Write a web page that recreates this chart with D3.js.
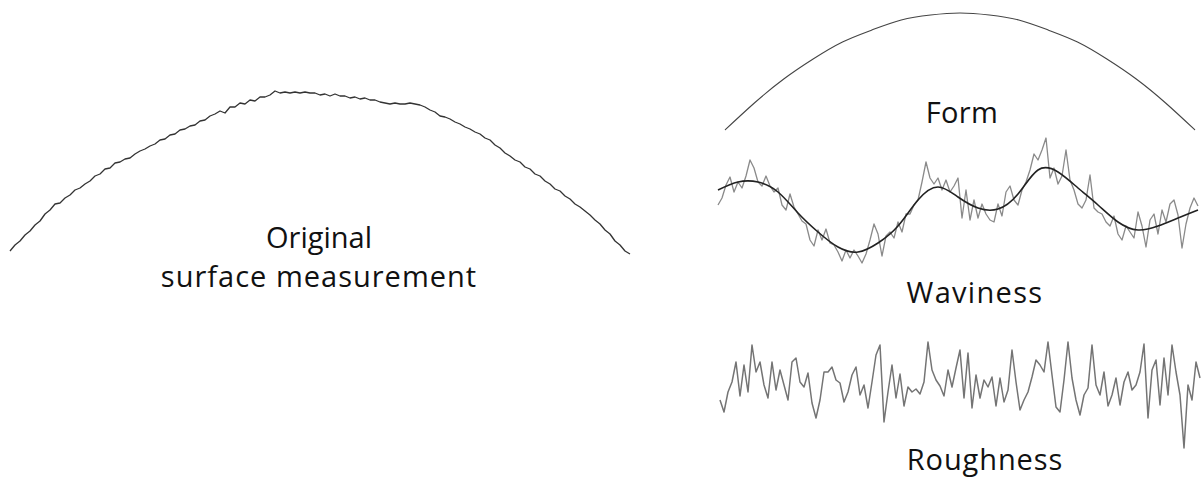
<!DOCTYPE html>
<html>
<head>
<meta charset="utf-8">
<script src="https://cdn.jsdelivr.net/npm/d3@7/dist/d3.min.js"></script>
<style>
  html, body { margin: 0; padding: 0; background: #fff; }
  svg { display: block; }
  text { font-family: "Open Sans", "Noto Sans", sans-serif; fill: #111; }
</style>
</head>
<body>
<svg id="chart" width="1201" height="477"></svg>
<script>
// Measured surface profile (height above reference, equally spaced samples)
const originalProfile = [
  9,15,19,25,29,35,39,46,50,56,57,62,65,70,72,76,79,84,86,91,
  92,97,98,101,102,106,109,111,114,116,120,121,125,126,130,131,134,135,139,140,
  144,146,149,147,153,153,157,156,160,159,163,163,165,169,167,168,167,168,167,168,
  167,167,165,166,164,166,164,164,162,163,161,162,160,160,158,157,156,157,156,156,
  157,156,155,153,150,148,144,143,141,138,136,133,131,128,126,122,120,115,112,107,
  104,100,98,93,91,86,84,79,76,71,69,64,61,56,53,49,45,40,36,30,
  26,19,15,9,6
];

// Form component (low-order fit)
const formProfile = [0,27,51,71,88,100,110,115,117,115,110,100,88,71,51,27,0];

// Waviness: filtered profile and its mean line
const wavinessProfile = [
  65,72,85,93,78,88,82,94,110,102,88,84,94,84,78,82,65,60,76,63,
  56,49,46,30,24,40,30,41,27,25,18,9,20,12,20,14,7,16,30,46,
  36,14,34,38,32,48,38,56,56,65,70,88,108,92,86,92,80,90,78,84,
  92,52,80,50,70,52,66,56,50,48,66,54,78,84,70,65,80,88,100,116,
  110,120,132,92,102,86,94,120,90,80,66,62,70,95,62,58,56,48,44,54,
  36,30,44,38,32,58,44,23,50,56,36,60,48,66,70,55,22,46,62,72,
  64
];
const wavinessMean = [80,88,88,78,57,38,23,18,27,44,70,83,73,62,61,76,100,98,82,65,48,40,44,52,60];

// Roughness: residual after removing waviness
const roughnessProfile = [
  -15,-27,-7,3,23,-11,20,-7,40,13,23,0,-13,23,-5,15,0,-15,23,27,
  3,-2,12,-18,-33,-15,13,13,18,5,2,-17,-7,10,18,-10,0,-23,3,30,
  40,-37,-7,20,-13,11,-21,-2,-7,-4,-9,3,43,15,5,-1,-11,15,-2,17,
  35,-13,32,-23,10,-13,5,-2,8,-21,7,-17,-5,35,3,-25,-15,-7,8,25,
  20,13,43,10,-22,-27,5,43,7,-15,-30,-10,-3,40,0,-10,13,-21,-10,7,
  -20,3,13,-5,0,13,41,-33,15,25,-20,27,-10,40,13,-10,-63,0,-15,23,
  7
];

// Panel labels
const labels = [
  { text: "Original", panel: "original", line: 0 },
  { text: "surface measurement", panel: "original", line: 1 },
  { text: "Form", panel: "form", line: 0 },
  { text: "Waviness", panel: "waviness", line: 0 },
  { text: "Roughness", panel: "roughness", line: 0 }
];

// Tracking per label so the words keep their set widths
const labelSpacing = {
  "Original": 0,
  "surface measurement": 1,
  "Form": 0.3,
  "Waviness": 1.3,
  "Roughness": 0.9
};

const svg = d3.select("#chart");

// Panel layouts (pixel frames)
const panels = {
  original:  { x0: 10,  x1: 630,  base: 260, label: { x: 319, y: 248, dy: 39 } },
  form:      { x0: 725, x1: 1195, base: 130, label: { x: 962, y: 123, dy: 0 } },
  waviness:  { x0: 718, x1: 1198, base: 270, label: { x: 975, y: 303, dy: 0 } },
  roughness: { x0: 720, x1: 1200, base: 385, label: { x: 985, y: 470, dy: 0 } }
};

function xScale(p, n) {
  return d3.scaleLinear().domain([0, n - 1]).range([p.x0, p.x1]);
}
function yScale(p) {
  // height units map 1:1 upward from the panel base line
  return d3.scaleLinear().domain([0, 100]).range([p.base, p.base - 100]);
}

function drawLine(data, p, curve, stroke, width) {
  const x = xScale(p, data.length);
  const y = yScale(p);
  const line = d3.line()
    .x((d, i) => x(i))
    .y(d => y(d))
    .curve(curve);
  svg.append("path")
    .datum(data)
    .attr("d", line)
    .attr("fill", "none")
    .attr("stroke", stroke)
    .attr("stroke-width", width)
    .attr("stroke-linejoin", "round");
}

drawLine(originalProfile, panels.original, d3.curveLinear, "#333", 1.3);
drawLine(formProfile, panels.form, d3.curveNatural, "#444", 1.1);
drawLine(wavinessProfile, panels.waviness, d3.curveLinear, "#8a8a8a", 1.3);
drawLine(wavinessMean, panels.waviness, d3.curveNatural, "#222", 1.6);
drawLine(roughnessProfile, panels.roughness, d3.curveLinear, "#747474", 1.5);

svg.selectAll("text.label")
  .data(labels)
  .join("text")
  .attr("class", "label")
  .attr("x", d => panels[d.panel].label.x)
  .attr("y", d => panels[d.panel].label.y + d.line * panels[d.panel].label.dy)
  .attr("text-anchor", "middle")
  .attr("font-size", 29)
  .attr("letter-spacing", d => labelSpacing[d.text])
  .text(d => d.text);
</script>
</body>
</html>
